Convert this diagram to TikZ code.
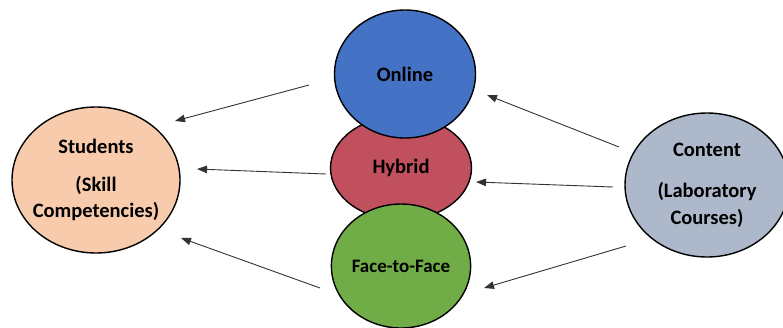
\documentclass[tikz,border=0pt]{standalone}
\usepackage{fontspec}
\setmainfont{Carlito}
\usetikzlibrary{shapes.geometric,arrows.meta}
\definecolor{peach}{HTML}{F8CBAD}
\definecolor{onl}{HTML}{4472C4}
\definecolor{hyb}{HTML}{C0505E}
\definecolor{ftf}{HTML}{70AD47}
\definecolor{cont}{HTML}{ADB9CA}
\tikzset{
  blob/.style={ellipse, draw=black, line width=1.4pt, inner sep=0pt, align=center,
    font=\bfseries\fontsize{20.5}{26.5}\selectfont},
  conn/.style={draw=black!80, line width=0.9pt, -{Triangle[length=10pt,width=7.5pt]}}
}
\begin{document}
\begin{tikzpicture}[x=1pt,y=-1pt]
\useasboundingbox (0,0) rectangle (783,327);
\node[blob, fill=peach, minimum width=168pt, minimum height=146pt, inner xsep=-8pt] (stu) at (96,180)
  {Students\\[11pt](Skill\\Competencies)};
\node[blob, fill=hyb, minimum width=141pt, minimum height=104pt] (hyb) at (401,168) {Hybrid};
\node[blob, fill=onl, minimum width=141pt, minimum height=128pt] (onl) at (405,74) {Online};
\node[blob, fill=ftf, minimum width=139pt, minimum height=124pt, font=\bfseries\fontsize{19}{24}\selectfont] (ftf) at (401,266) {Face-to-Face};
\node[blob, fill=cont, minimum width=164pt, minimum height=144pt, inner xsep=-4pt] (con) at (707,185)
  {Content\\[15pt](Laboratory\\Courses)};
% arrow end points
\coordinate (a1s) at (309,85);  \coordinate (a1e) at (175,121);
\coordinate (a2s) at (326,174); \coordinate (a2e) at (197,169);
\coordinate (a3s) at (320,288); \coordinate (a3e) at (181,238);
\coordinate (a4s) at (619,147); \coordinate (a4e) at (487,95);
\coordinate (a5s) at (613,187); \coordinate (a5e) at (476,182);
\coordinate (a6s) at (626,246); \coordinate (a6e) at (484,288);
\draw[conn] (a1s) -- (a1e);
\draw[conn] (a2s) -- (a2e);
\draw[conn] (a3s) -- (a3e);
\draw[conn] (a4s) -- (a4e);
\draw[conn] (a5s) -- (a5e);
\draw[conn] (a6s) -- (a6e);
\end{tikzpicture}
\end{document}
